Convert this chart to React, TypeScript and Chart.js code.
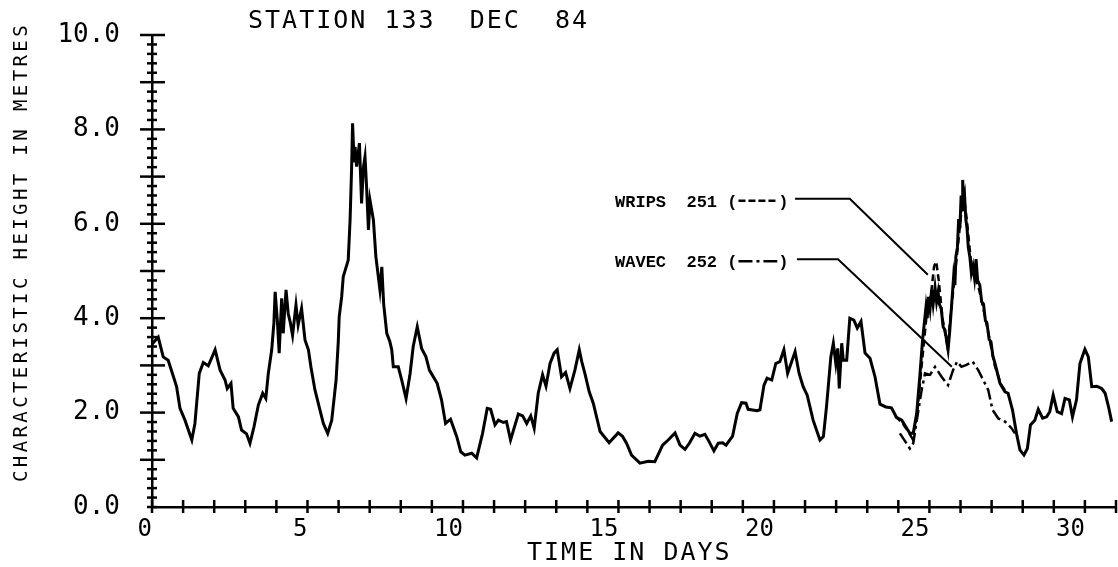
import React, { useEffect, useRef } from "react";
import { Chart, registerables } from "chart.js";

Chart.register(...registerables);

// ---- text ----
const TITLE = "STATION 133  DEC  84";
const X_TITLE = "TIME IN DAYS";
const Y_TITLE = "CHARACTERISTIC HEIGHT IN METRES";
const WRIPS_LABEL = "WRIPS  251 (";
const WAVEC_LABEL = "WAVEC  252 (";

// ---- axes ----
const X_MIN = 0;
const X_MAX = 31;
const Y_MIN = 0;
const Y_MAX = 10;
const X_LABELED = [0, 5, 10, 15, 20, 25, 30];
const Y_LABELED = [0, 2, 4, 6, 8, 10];

// ---- main (solid) record ----
const solidDays = [
  0, 0.2, 0.36, 0.52, 0.69, 0.79, 0.9, 1.06, 1.28, 1.38, 1.52, 1.65, 1.81, 2.03, 2.19, 2.35, 2.42, 2.54, 2.61, 2.78,
  2.88, 3.04, 3.15, 3.28, 3.42, 3.56, 3.66, 3.74, 3.85, 3.92, 3.96, 4.03, 4.09, 4.17, 4.22, 4.31, 4.38, 4.45, 4.52, 4.63,
  4.7, 4.81, 4.92, 5.03, 5.11, 5.24, 5.4, 5.51, 5.65, 5.78, 5.92, 5.99, 6.02, 6.1, 6.15, 6.31, 6.37, 6.42, 6.45, 6.5,
  6.53, 6.58, 6.67, 6.74, 6.8, 6.85, 6.9, 6.96, 7.01, 7.12, 7.2, 7.33, 7.39, 7.45, 7.55, 7.65, 7.71, 7.76, 7.92, 8.03,
  8.17, 8.3, 8.4, 8.53, 8.67, 8.81, 8.92, 9.17, 9.31, 9.44, 9.6, 9.8, 9.93, 10.06, 10.28, 10.44, 10.63, 10.78, 10.89, 11.03,
  11.14, 11.3, 11.4, 11.53, 11.78, 11.92, 12.05, 12.18, 12.29, 12.42, 12.56, 12.67, 12.8, 12.93, 13.03, 13.17, 13.3, 13.44, 13.6, 13.74,
  13.82, 13.92, 14.06, 14.19, 14.41, 14.7, 14.99, 15.13, 15.26, 15.42, 15.69, 15.96, 16.17, 16.42, 16.6, 16.82, 16.98, 17.14, 17.28, 17.46,
  17.62, 17.78, 17.92, 18.07, 18.21, 18.35, 18.46, 18.67, 18.82, 18.96, 19.1, 19.17, 19.46, 19.55, 19.68, 19.78, 19.93, 20.06, 20.19, 20.32,
  20.44, 20.68, 20.81, 20.94, 21.07, 21.26, 21.48, 21.59, 21.69, 21.83, 21.91, 21.99, 22.05, 22.1, 22.18, 22.23, 22.34, 22.44, 22.57, 22.68,
  22.8, 22.93, 23.09, 23.25, 23.41, 23.6, 23.78, 23.94, 24.11, 24.27, 24.37, 24.48, 24.59, 24.69, 24.78, 24.89, 24.93, 24.97, 25.02, 25.07,
  25.12, 25.18, 25.23, 25.28, 25.32, 25.38, 25.44, 25.5, 25.6, 25.65, 25.71, 25.78, 25.82, 25.85, 25.9, 25.94, 25.98, 26.02, 26.05, 26.07,
  26.1, 26.13, 26.17, 26.21, 26.25, 26.3, 26.35, 26.4, 26.45, 26.5, 26.55, 26.62, 26.68, 26.74, 26.8, 26.85, 26.92, 26.98, 27.04, 27.11,
  27.27, 27.43, 27.53, 27.67, 27.8, 27.91, 28.04, 28.15, 28.25, 28.39, 28.5, 28.64, 28.77, 28.87, 28.98, 29.11, 29.25, 29.36, 29.5, 29.6,
  29.73, 29.84, 30.0, 30.11, 30.22, 30.38, 30.54, 30.65, 30.76, 30.86,
];
const solidHeights = [
  3.45, 3.6, 3.18, 3.11, 2.76, 2.55, 2.09, 1.84, 1.42, 1.77, 2.83, 3.06, 2.99, 3.33, 2.9, 2.69, 2.51, 2.62, 2.09, 1.91,
  1.63, 1.55, 1.35, 1.7, 2.16, 2.41, 2.3, 2.83, 3.33, 3.9, 4.56, 3.96, 3.26, 4.42, 3.68, 4.6, 4.1, 3.9, 3.64, 4.28,
  3.86, 4.21, 3.54, 3.33, 2.97, 2.48, 2.06, 1.77, 1.56, 1.84, 2.69, 3.5, 4.03, 4.46, 4.88, 5.23, 6.08, 7.21, 8.13, 7.3,
  7.63, 7.21, 7.71, 6.43, 7.2, 7.42, 6.79, 5.87, 6.5, 6.08, 5.3, 4.6, 5.09, 4.3, 3.68, 3.5, 3.33, 2.97, 2.97, 2.69,
  2.3, 2.83, 3.4, 3.82, 3.36, 3.18, 2.9, 2.62, 2.27, 1.77, 1.86, 1.49, 1.17, 1.1, 1.14, 1.04, 1.56, 2.09, 2.07, 1.74,
  1.84, 1.79, 1.81, 1.42, 1.97, 1.93, 1.77, 1.93, 1.67, 2.41, 2.8, 2.56, 3.04, 3.26, 3.33, 2.76, 2.85, 2.51, 2.9, 3.33,
  3.08, 2.83, 2.44, 2.2, 1.6, 1.36, 1.57, 1.5, 1.35, 1.1, 0.93, 0.97, 0.96, 1.31, 1.42, 1.57, 1.31, 1.22, 1.35, 1.56,
  1.5, 1.54, 1.38, 1.19, 1.35, 1.36, 1.31, 1.5, 1.98, 2.21, 2.2, 2.07, 2.04, 2.06, 2.58, 2.73, 2.69, 3.04, 3.08, 3.33,
  2.83, 3.29, 2.83, 2.55, 2.37, 1.84, 1.42, 1.49, 2.12, 3.18, 3.47, 3.04, 3.36, 2.51, 3.47, 3.11, 3.11, 4.0, 3.96, 3.79,
  3.93, 3.26, 3.15, 2.76, 2.18, 2.12, 2.1, 1.9, 1.84, 1.67, 1.56, 1.56, 1.98, 2.76, 3.54, 4.24, 4.0, 4.45, 4.2, 4.6,
  4.3, 4.65, 4.35, 4.55, 4.3, 4.2, 3.82, 3.75, 3.33, 3.7, 4.24, 4.9, 4.7, 5.3, 5.5, 6.1, 5.9, 6.6, 6.3, 6.93,
  6.5, 6.6, 6.1, 5.9, 5.5, 5.3, 4.95, 5.1, 4.85, 5.25, 4.8, 4.7, 4.35, 4.3, 3.95, 3.9, 3.55, 3.5, 3.2, 3.04,
  2.62, 2.44, 2.41, 2.06, 1.56, 1.21, 1.1, 1.24, 1.74, 1.84, 2.07, 1.88, 1.91, 2.02, 2.37, 2.02, 1.98, 2.3, 2.27, 1.91,
  2.27, 3.04, 3.34, 3.18, 2.55, 2.56, 2.51, 2.41, 2.12, 1.81,
];

// ---- WRIPS 251 (dashed) where it departs from the main trace ----
const wripsDays = [23.9, 24.1, 24.3, 24.45, 24.6, 24.75, 24.9, 25.05, 25.15, 25.22, 25.3, 25.42, 25.58, 25.72, 25.88, 26.02, 26.1, 26.2, 26.35, 26.6, 26.8, 27.1, 27.3, 27.45];
const wripsHeights = [1.92, 1.8, 1.62, 1.45, 1.95, 3.0, 4.0, 4.5, 5.1, 5.2, 4.8, 4.0, 3.4, 4.3, 5.3, 6.2, 6.6, 6.1, 5.1, 4.6, 4.0, 3.0, 2.6, 2.45];

// ---- WAVEC 252 (dash-dot) ----
const wavecDays = [24.05, 24.21, 24.37, 24.48, 24.59, 24.75, 24.86, 25.02, 25.18, 25.39, 25.6, 25.76, 25.89, 26.03, 26.19, 26.39, 26.57, 26.73, 26.89, 27.03, 27.21, 27.43, 27.64, 27.75];
const wavecHeights = [1.56, 1.4, 1.24, 1.35, 1.82, 2.48, 2.83, 2.8, 2.97, 2.76, 2.58, 2.9, 3.08, 2.97, 3.01, 3.08, 2.9, 2.69, 2.48, 2.06, 1.88, 1.81, 1.67, 1.56];

// ---- annotation anchors (data units) ----
const wripsTextAt = [14.89, 6.36];
const wavecTextAt = [14.89, 5.08];
const wripsLeaderDays = [20.68, 22.44, 24.95];
const wripsLeaderHeights = [6.53, 6.53, 4.92];
const wavecLeaderDays = [20.74, 22.06, 25.72];
const wavecLeaderHeights = [5.25, 5.25, 2.97];

const MONO = "'DejaVu Sans Mono', monospace";

const zip = (xs: number[], ys: number[]) => xs.map((x, i) => ({ x, y: ys[i] }));

const decorPlugin = {
  id: "decor",
  afterDraw(chart: any) {
    const ctx: CanvasRenderingContext2D = chart.ctx;
    const xs = chart.scales.x;
    const ys = chart.scales.y;
    const axisX = xs.left;
    const axisY = ys.bottom;
    ctx.save();
    ctx.strokeStyle = "#000";
    ctx.fillStyle = "#000";
    ctx.lineCap = "butt";
    ctx.lineWidth = 2.5;
    // x tick marks crossing the axis
    xs.ticks.forEach((t: any) => {
      const px = xs.getPixelForValue(t.value);
      ctx.beginPath();
      ctx.moveTo(px, axisY - 7);
      ctx.lineTo(px, axisY + 6);
      ctx.stroke();
    });
    // y tick marks crossing the axis
    ys.ticks.forEach((t: any) => {
      const py = ys.getPixelForValue(t.value);
      const major = Math.abs(t.value - Math.round(t.value)) < 1e-6 && t.value !== 0;
      ctx.beginPath();
      ctx.moveTo(axisX - (major ? 12 : 5), py);
      ctx.lineTo(axisX + (major ? 13 : 5), py);
      ctx.stroke();
    });

    // titles
    (ctx as any).letterSpacing = "2px";
    ctx.font = `25px ${MONO}`;
    ctx.textAlign = "left";
    ctx.textBaseline = "alphabetic";
    ctx.fillText(TITLE, 248, 28);
    ctx.fillText(X_TITLE, 527, 560);

    ctx.save();
    (ctx as any).letterSpacing = "3.4px";
    ctx.font = `19px ${MONO}`;
    ctx.translate(27, 482);
    ctx.rotate(-Math.PI / 2);
    ctx.fillText(Y_TITLE, 0, 0);
    ctx.restore();
    (ctx as any).letterSpacing = "0px";

    // annotation labels with line-style samples
    const drawEntry = (label: string, at: number[], dash: number[], lDays: number[], lHeights: number[]) => {
      ctx.font = `bold 17px 'Liberation Mono', monospace`;
      const tx = xs.getPixelForValue(at[0]);
      const ty = ys.getPixelForValue(at[1]);
      ctx.fillText(label, tx, ty);
      const w = ctx.measureText(label).width;
      const cw = ctx.measureText("M").width;
      const sx = tx + w + 1;
      const ex = tx + w + 4 * cw - 1;
      ctx.lineWidth = 2.5;
      ctx.setLineDash(dash);
      ctx.beginPath();
      ctx.moveTo(sx, ty - 6);
      ctx.lineTo(ex, ty - 6);
      ctx.stroke();
      ctx.setLineDash([]);
      ctx.fillText(")", tx + w + 4 * cw, ty);
      ctx.lineWidth = 2;
      ctx.beginPath();
      lDays.forEach((d, i) => {
        const px = xs.getPixelForValue(d);
        const py = ys.getPixelForValue(lHeights[i]);
        if (i === 0) ctx.moveTo(px, py);
        else ctx.lineTo(px, py);
      });
      ctx.stroke();
    };
    drawEntry(WRIPS_LABEL, wripsTextAt, [7, 3], wripsLeaderDays, wripsLeaderHeights);
    drawEntry(WAVEC_LABEL, wavecTextAt, [14, 4, 3, 4, 14], wavecLeaderDays, wavecLeaderHeights);
    ctx.restore();
  },
};

export default function App() {
  const canvasRef = useRef<HTMLCanvasElement | null>(null);

  useEffect(() => {
    if (!canvasRef.current) return;
    const chart = new Chart(canvasRef.current, {
      type: "line",
      data: {
        datasets: [
          {
            label: "Record",
            data: zip(solidDays, solidHeights),
            borderColor: "#000",
            borderWidth: 3,
            pointRadius: 0,
            tension: 0,
            fill: false,
          },
          {
            label: "WRIPS 251",
            data: zip(wripsDays, wripsHeights),
            borderColor: "#000",
            borderWidth: 2.5,
            borderDash: [7, 4],
            pointRadius: 0,
            tension: 0,
            fill: false,
          },
          {
            label: "WAVEC 252",
            data: zip(wavecDays, wavecHeights),
            borderColor: "#000",
            borderWidth: 2.5,
            borderDash: [12, 4, 3, 4],
            pointRadius: 0,
            tension: 0,
            fill: false,
          },
        ],
      },
      options: {
        responsive: false,
        animation: false,
        devicePixelRatio: 1,
        layout: { padding: { top: 35, right: 2, left: 0, bottom: 0 } },
        plugins: {
          legend: { display: false },
          title: { display: false },
          tooltip: { enabled: false },
        },
        scales: {
          x: {
            type: "linear",
            min: X_MIN,
            max: X_MAX,
            position: "bottom",
            afterFit: (s: any) => {
              s.height = 60;
            },
            grid: { display: false, drawTicks: true, tickLength: 8, drawOnChartArea: false },
            border: { display: true, color: "#000", width: 2.5 },
            ticks: {
              stepSize: 1,
              autoSkip: false,
              maxRotation: 0,
              minRotation: 0,
              maxTicksLimit: 1000,
              align: "end",
              padding: 0,
              color: "#000",
              font: { family: MONO, size: 24 },
              callback: (v: any) => (X_LABELED.includes(Number(v)) ? String(v) : ""),
            },
          },
          y: {
            type: "linear",
            min: Y_MIN,
            max: Y_MAX,
            afterFit: (s: any) => {
              s.width = 152;
            },
            grid: { display: false, drawTicks: true, tickLength: 32, drawOnChartArea: false },
            border: { display: true, color: "#000", width: 2.5 },
            ticks: {
              stepSize: 0.2,
              autoSkip: false,
              maxTicksLimit: 1000,
              padding: 0,
              color: "#000",
              font: { family: MONO, size: 26 },
              callback: (v: any) => {
                const n = Math.round(Number(v) * 10) / 10;
                return Y_LABELED.some((l) => Math.abs(l - n) < 1e-6) ? n.toFixed(1) : "";
              },
            },
          },
        },
      },
      plugins: [decorPlugin],
    } as any);
    return () => chart.destroy();
  }, []);

  return (
    <div style={{ position: "absolute", left: 0, top: 0, width: 1118, height: 567, background: "#fff" }}>
      <canvas ref={canvasRef} width={1118} height={567} />
    </div>
  );
}
